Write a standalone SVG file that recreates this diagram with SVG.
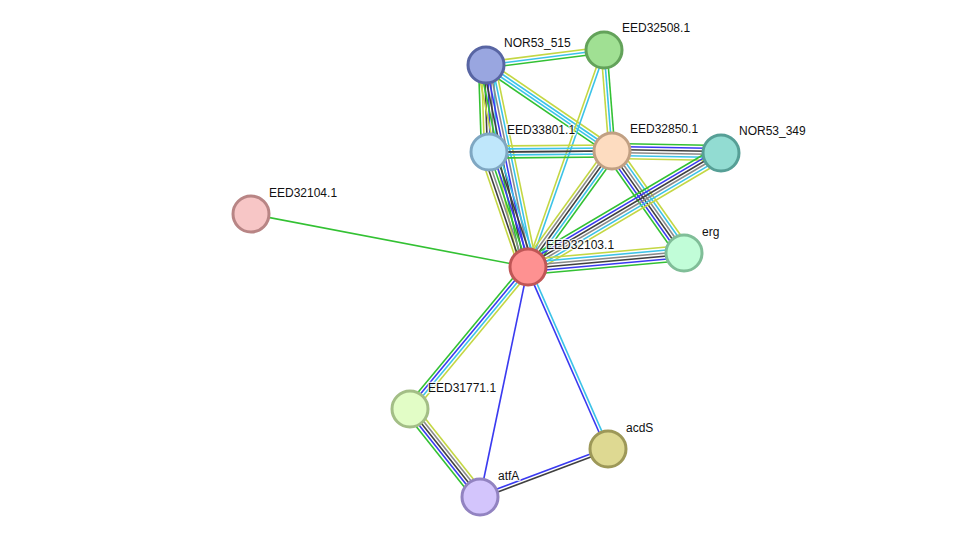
<svg xmlns="http://www.w3.org/2000/svg" width="976" height="543" viewBox="0 0 976 543">
<style>
line{stroke-width:1.6;fill:none}
.g{stroke:#33c133}.c{stroke:#3cc3e8}.b{stroke:#3a3af0}.k{stroke:#404040}.y{stroke:#c4d744}.n{stroke:#8a8a8a}
circle{stroke-width:3}
text{font-family:"Liberation Sans",Arial,sans-serif;font-size:12px;fill:#111;stroke:#fff;stroke-width:2.5px;stroke-opacity:.8;paint-order:stroke;stroke-linejoin:round}
</style>
<rect width="976" height="543" fill="#fff"/>
<g id="edges">
<!-- A-B -->
<g transform="translate(486,65) rotate(-7.24)"><line class="y" x2="119" y1="-3" y2="-3"/><line class="c" x2="119"/><line class="g" x2="119" y1="3" y2="3"/></g>
<!-- A-D -->
<g transform="translate(486,65) rotate(34.31)"><line class="y" x2="152.5" y1="-4.5" y2="-4.5"/><line class="c" x2="152.5" y1="-1.5" y2="-1.5"/><line class="c" x2="152.5" y1="1.5" y2="1.5"/><line class="g" x2="152.5" y1="4.5" y2="4.5"/></g>
<!-- A-C -->
<g transform="translate(486,65) rotate(88.03)"><line class="c" x2="87" y1="-7.5" y2="-7.5"/><line class="n" x2="87" y1="-4.5" y2="-4.5"/><line class="b" x2="87" y1="-1.5" y2="-1.5"/><line class="k" x2="87" y1="1.5" y2="1.5"/><line class="y" x2="87" y1="4.5" y2="4.5"/><line class="g" x2="87" y1="7.5" y2="7.5"/></g>
<!-- A-G -->
<g transform="translate(486,65) rotate(78.25)"><line class="y" x2="206" y1="-9" y2="-9"/><line class="c" x2="206" y1="-6" y2="-6"/><line class="n" x2="206" y1="-3" y2="-3"/><line class="b" x2="206"/><line class="k" x2="206" y1="3" y2="3"/><line class="g" x2="206" y1="6" y2="6"/><line class="y" x2="206" y1="9" y2="9"/></g>
<!-- B-D -->
<g transform="translate(604,50) rotate(85.47)"><line class="g" x2="101" y1="-3" y2="-3"/><line class="c" x2="101"/><line class="y" x2="101" y1="3" y2="3"/></g>
<!-- B-G -->
<g transform="translate(604,50) rotate(109.3)"><line class="c" x2="230" y1="-1.5" y2="-1.5"/><line class="y" x2="230" y1="1.5" y2="1.5"/></g>
<!-- C-D -->
<g transform="translate(489,152) rotate(-0.47)"><line class="y" x2="123" y1="-6" y2="-6"/><line class="c" x2="123" y1="-3" y2="-3"/><line class="n" x2="123"/><line class="k" x2="123" y1="-0" y2="0"/><line class="c" x2="123" y1="3" y2="3"/><line class="g" x2="123" y1="6" y2="6"/></g>
<!-- C-G -->
<g transform="translate(489,152) rotate(71.26)"><line class="c" x2="121" y1="-9" y2="-9"/><line class="k" x2="121" y1="-6" y2="-6"/><line class="b" x2="121" y1="-3" y2="-3"/><line class="g" x2="121"/><line class="n" x2="121" y1="3" y2="3"/><line class="k" x2="121" y1="6" y2="6"/><line class="y" x2="121" y1="9" y2="9"/></g>
<!-- D-E -->
<g transform="translate(612,151) rotate(1.05)"><line class="g" x2="109" y1="-7.5" y2="-7.5"/><line class="b" x2="109" y1="-4.5" y2="-4.5"/><line class="k" x2="109" y1="-1.5" y2="-1.5"/><line class="n" x2="109" y1="1.5" y2="1.5"/><line class="c" x2="109" y1="4.5" y2="4.5"/><line class="y" x2="109" y1="7.5" y2="7.5"/></g>
<!-- D-H -->
<g transform="translate(612,151) rotate(54.78)"><line class="y" x2="125" y1="-7.5" y2="-7.5"/><line class="c" x2="125" y1="-4.5" y2="-4.5"/><line class="n" x2="125" y1="-1.5" y2="-1.5"/><line class="k" x2="125" y1="1.5" y2="1.5"/><line class="b" x2="125" y1="4.5" y2="4.5"/><line class="g" x2="125" y1="7.5" y2="7.5"/></g>
<!-- D-G -->
<g transform="translate(612,151) rotate(125.91)"><line class="g" x2="143" y1="-6" y2="-6"/><line class="c" x2="143" y1="-3" y2="-3"/><line class="k" x2="143"/><line class="n" x2="143" y1="3" y2="3"/><line class="y" x2="143" y1="6" y2="6"/></g>
<!-- E-G -->
<g transform="translate(721,153) rotate(149.43)"><line class="y" x2="224" y1="-7.5" y2="-7.5"/><line class="c" x2="224" y1="-4.5" y2="-4.5"/><line class="n" x2="224" y1="-1.5" y2="-1.5"/><line class="k" x2="224" y1="1.5" y2="1.5"/><line class="b" x2="224" y1="4.5" y2="4.5"/><line class="g" x2="224" y1="7.5" y2="7.5"/></g>
<!-- H-G -->
<g transform="translate(684,253) rotate(174.87)"><line class="g" x2="157" y1="-7.5" y2="-7.5"/><line class="b" x2="157" y1="-4.5" y2="-4.5"/><line class="k" x2="157" y1="-1.5" y2="-1.5"/><line class="n" x2="157" y1="1.5" y2="1.5"/><line class="c" x2="157" y1="4.5" y2="4.5"/><line class="y" x2="157" y1="7.5" y2="7.5"/></g>
<!-- F-G -->
<line class="g" x1="251" y1="214" x2="528" y2="267"/>
<!-- G-I -->
<g transform="translate(528,267) rotate(129.73)"><line class="y" x2="185" y1="-4.5" y2="-4.5"/><line class="c" x2="185" y1="-1.5" y2="-1.5"/><line class="b" x2="185" y1="1.5" y2="1.5"/><line class="g" x2="185" y1="4.5" y2="4.5"/></g>
<!-- G-K -->
<line class="b" x1="528" y1="267" x2="480" y2="497"/>
<!-- G-J -->
<g transform="translate(528,267) rotate(66.27)"><line class="c" x2="199" y1="-1.5" y2="-1.5"/><line class="b" x2="199" y1="1.5" y2="1.5"/></g>
<!-- I-K -->
<g transform="translate(410,409) rotate(51.5)"><line class="y" x2="112" y1="-6" y2="-6"/><line class="n" x2="112" y1="-3" y2="-3"/><line class="k" x2="112"/><line class="b" x2="112" y1="3" y2="3"/><line class="g" x2="112" y1="6" y2="6"/></g>
<!-- K-J -->
<g transform="translate(480,497) rotate(-20.56)"><line class="b" x2="137" y1="-1.5" y2="-1.5"/><line class="k" x2="137" y1="1.5" y2="1.5"/></g>
</g>
<g id="NOR53_515"><circle cx="486" cy="65" r="18" fill="#99a6e0" stroke="#5865a3"/><text x="504" y="47">NOR53_515</text></g>
<g id="EED32508.1"><circle cx="604" cy="50" r="18" fill="#a0e093" stroke="#63a25a"/><text x="622" y="32">EED32508.1</text></g>
<g id="EED33801.1"><circle cx="489" cy="152" r="18" fill="#bfe7fb" stroke="#7fa7c2"/><text x="507" y="134">EED33801.1</text></g>
<g id="EED32850.1"><circle cx="612" cy="151" r="18" fill="#fddcc0" stroke="#c1a083"/><text x="630" y="133">EED32850.1</text></g>
<g id="NOR53_349"><circle cx="721" cy="153" r="18" fill="#92dcd2" stroke="#569f96"/><text x="739" y="135">NOR53_349</text></g>
<g id="EED32104.1"><circle cx="251" cy="214" r="18" fill="#f7c6c6" stroke="#b88585"/><text x="269" y="197">EED32104.1</text></g>
<g id="EED32103.1"><circle cx="528" cy="267" r="18" fill="#fe9191" stroke="#c05656"/><text x="546" y="249">EED32103.1</text></g>
<g id="erg"><circle cx="684" cy="253" r="18" fill="#c1fdd8" stroke="#80be98"/><text x="702" y="236">erg</text></g>
<g id="EED31771.1"><circle cx="410" cy="409" r="18" fill="#e2fdc6" stroke="#a3be86"/><text x="428" y="392">EED31771.1</text></g>
<g id="acdS"><circle cx="608" cy="449" r="18" fill="#ded992" stroke="#9d9858"/><text x="626" y="432">acdS</text></g>
<g id="atfA"><circle cx="480" cy="497" r="18" fill="#d3c5fc" stroke="#9283c1"/><text x="498" y="480">atfA</text></g>
</svg>
